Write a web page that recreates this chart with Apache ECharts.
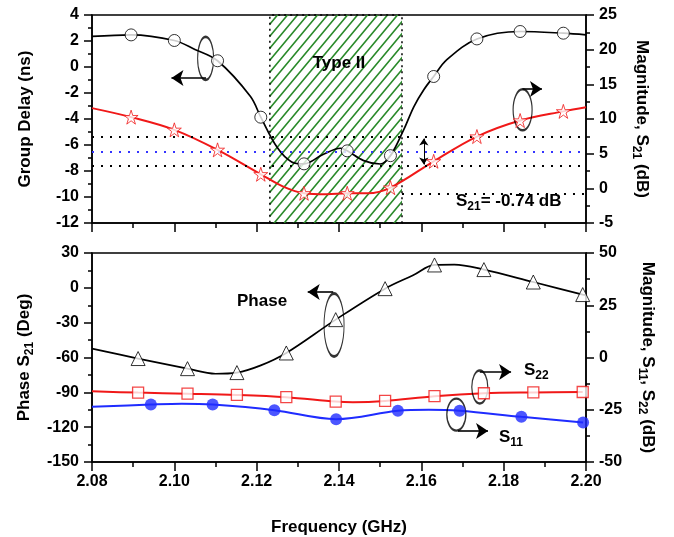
<!DOCTYPE html>
<html>
<head>
<meta charset="utf-8">
<script src="https://cdn.jsdelivr.net/npm/echarts@6/dist/echarts.min.js"></script>
<style>
  html, body { margin: 0; padding: 0; background: #fff; }
  #chart { width: 674px; height: 537px; }
</style>
</head>
<body>
<div id="chart"></div>
<script>
// frequency axis (GHz)
const freqMin = 2.08
const freqMax = 2.20

// top panel: group delay (ns), marker points + extra curve points
const gdMarks = [[2.0895, 2.47], [2.1000, 2.04], [2.1105, 0.48], [2.1210, -3.86], [2.1315, -7.45],
  [2.1420, -6.45], [2.1525, -6.82], [2.1630, -0.73], [2.1735, 2.16], [2.1840, 2.73], [2.1945, 2.60]]
const gdExtra = [[2.080, 2.35], [2.105, 1.35], [2.1185, -2.27], [2.125, -6.2], [2.1285, -7.3],
  [2.136, -6.75], [2.1404, -6.25], [2.146, -7.2], [2.150, -7.46], [2.1557, -4.84], [2.1582, -3.04],
  [2.1606, -1.75], [2.1662, 0.56], [2.200, 2.47]]

// top panel: S21 magnitude (dB)
const s21Marks = [[2.0895, 10.27], [2.1000, 8.44], [2.1105, 5.55], [2.1210, 2.03], [2.1315, -0.71],
  [2.1420, -0.71], [2.1525, 0.1], [2.1630, 3.9], [2.1735, 7.47], [2.1840, 9.78], [2.1945, 11.1]]
const s21Extra = [[2.080, 11.57], [2.1266, 0.2], [2.137, -0.85], [2.147, -0.72], [2.200, 11.7]]

// bottom panel: phase of S21 (deg)
const phaseMarks = [[2.0912, -60.9], [2.1032, -69.6], [2.1152, -73.0], [2.1272, -56.1], [2.1392, -27.4],
  [2.1512, -0.7], [2.1632, 19.7], [2.1752, 15.7], [2.1872, 5.0], [2.1992, -5.8]]
const phaseExtra = [[2.080, -52.3], [2.110, -74.0], [2.121, -66.8], [2.158, 10.8], [2.168, 20.0], [2.200, -6.3]]

// bottom panel: S22 and S11 magnitude (dB)
const s22Marks = [[2.0912, -16.8], [2.1032, -17.3], [2.1152, -17.9], [2.1272, -19.0], [2.1392, -21.1],
  [2.1512, -20.8], [2.1632, -18.5], [2.1752, -17.1], [2.1872, -16.7], [2.1992, -16.5]]
const s22Extra = [[2.080, -16.2], [2.1434, -21.4]]
const s11Marks = [[2.0943, -22.5], [2.1093, -22.5], [2.1243, -25.2], [2.1393, -29.5],
  [2.1543, -25.5], [2.1693, -25.5], [2.1843, -28.4], [2.1993, -31.1]]
const s11Extra = [[2.080, -23.6], [2.1018, -22.1], [2.1618, -25.0]]

// Type II band and reference levels (S21 axis)
const typeBand = [2.1232, 2.1553]
const s21Levels = [7.38, 3.23]
const s21MidLevel = 5.21
const s21MinLevel = -0.74

// annotation ellipses [freq, value] and arrows [from, to]
const gdEllipse = [2.1076, 0.66]
const gdArrow = [[2.1077, -0.85], [2.0993, -0.85]]
const s21Ellipse = [2.1846, 11.32]
const s21Arrow = [[2.1846, 14.31], [2.1893, 14.31]]
const phaseEllipse = [2.1388, -32.0]
const phaseArrow = [[2.1386, -3.6], [2.1324, -3.6]]
const s22Ellipse = [2.1742, -14.1]
const s22Arrow = [[2.1742, -6.9], [2.1818, -6.9]]
const s11Ellipse = [2.1685, -27.3]
const s11Arrow = [[2.1689, -35.2], [2.1762, -35.2]]

const FONT = 'Liberation Sans'
const byFreq = (a, b) => a[0] - b[0]
const curve = (marks, extra) => marks.concat(extra).sort(byFreq)

const starPath = 'path://M50 0 L61.17 34.63 L97.55 34.55 L68.07 55.87 L79.39 90.45 L50 69 L20.61 90.45 L31.93 55.87 L2.45 34.55 L38.83 34.63 Z'

// diagonal green hatch for the Type II band
const hatch = document.createElement('canvas')
hatch.width = 10
hatch.height = 12
const hctx = hatch.getContext('2d')
hctx.strokeStyle = '#2a8a2a'
hctx.lineWidth = 1.6
hctx.beginPath()
hctx.moveTo(0, 12); hctx.lineTo(10, 0)
hctx.moveTo(-10, 12); hctx.lineTo(10, -12)
hctx.moveTo(0, 24); hctx.lineTo(20, 0)
hctx.stroke()

const rich = {
  m: { fontSize: 17, fontWeight: 'bold', fontFamily: FONT, color: '#000', lineHeight: 24 },
  s: { fontSize: 12, fontWeight: 'bold', fontFamily: FONT, color: '#000', lineHeight: 12, verticalAlign: 'bottom' }
}

const xAxisBase = (gridIndex, showLabel) => ({
  type: 'value',
  gridIndex,
  min: freqMin,
  max: freqMax,
  interval: 0.02,
  axisLine: { onZero: false, lineStyle: { color: '#000', width: 1.5 } },
  axisTick: { length: 9, lineStyle: { color: '#000', width: 1.5 } },
  minorTick: { show: true, splitNumber: 2, length: 5, lineStyle: { color: '#000', width: 1.5 } },
  splitLine: { show: false },
  axisLabel: {
    show: showLabel, margin: 12, color: '#000', fontSize: 16, fontWeight: 'bold', fontFamily: FONT,
    formatter: v => v.toFixed(2)
  }
})

const yAxisBase = (gridIndex, position, min, max, interval, name, nameGap) => ({
  type: 'value',
  gridIndex,
  position,
  min,
  max,
  interval,
  name,
  nameLocation: 'middle',
  nameGap,
  nameRotate: position === 'left' ? 90 : -90,
  nameTextStyle: { rich },
  axisLine: { show: true, onZero: false, lineStyle: { color: '#000', width: 1.5 } },
  axisTick: { length: 8, lineStyle: { color: '#000', width: 1.5 } },
  minorTick: { show: true, splitNumber: 2, length: 4, lineStyle: { color: '#000', width: 1.5 } },
  splitLine: { show: false },
  axisLabel: { margin: 13, color: '#000', fontSize: 16, fontWeight: 'bold', fontFamily: FONT }
})

const arrowLine = (pts, color) => ({
  silent: true,
  symbol: ['none', 'arrow'],
  symbolSize: 12,
  label: { show: false },
  lineStyle: { color: color || '#000', type: 'solid', width: 1.6 },
  data: [[{ coord: pts[0] }, { coord: pts[1] }]]
})

const ellipse = (x, y, center, size) => ({
  type: 'scatter',
  xAxisIndex: x,
  yAxisIndex: y,
  silent: true,
  z: 5,
  symbol: 'circle',
  data: [{ value: center, symbolSize: size }],
  itemStyle: { color: 'rgba(0,0,0,0)', borderColor: '#000', borderWidth: 1.7 }
})

const chart = echarts.init(document.getElementById('chart'))

const option = {
  animation: false,
  backgroundColor: '#fff',
  grid: [
    { left: 92, top: 15, width: 494, height: 208, show: true, borderColor: '#000', borderWidth: 1.5 },
    { left: 92, top: 253, width: 494, height: 209, show: true, borderColor: '#000', borderWidth: 1.5 }
  ],
  xAxis: [
    xAxisBase(0, false),
    Object.assign(xAxisBase(1, true), {
      name: 'Frequency (GHz)',
      nameLocation: 'middle',
      nameGap: 57,
      nameTextStyle: { fontSize: 17, fontWeight: 'bold', fontFamily: FONT, color: '#000' }
    })
  ],
  yAxis: [
    yAxisBase(0, 'left', -12, 4, 2, '{m|Group Delay (ns)}', 55),
    yAxisBase(0, 'right', -5, 25, 5, '{m|Magnitude, S}{s|21}{m| (dB)}', 44),
    yAxisBase(1, 'left', -150, 30, 30, '{m|Phase S}{s|21}{m| (Deg)}', 55),
    yAxisBase(1, 'right', -50, 50, 25, '{m|Magnitude, S}{s|11}{m|, S}{s|22}{m| (dB)}', 50)
  ],
  series: [
    {
      name: 'Group Delay',
      type: 'line',
      xAxisIndex: 0,
      yAxisIndex: 0,
      data: curve(gdMarks, gdExtra),
      smooth: 0.35,
      showSymbol: false,
      z: 3,
      lineStyle: { color: '#000', width: 1.7 },
      markArea: {
        silent: true,
        itemStyle: {
          color: { image: hatch, repeat: 'repeat' },
          borderColor: '#000',
          borderWidth: 1.5,
          borderType: [2, 4]
        },
        label: { show: false },
        data: [[{ xAxis: typeBand[0] }, { xAxis: typeBand[1] }]]
      }
    },
    {
      type: 'scatter',
      xAxisIndex: 0,
      yAxisIndex: 0,
      data: gdMarks,
      symbol: 'circle',
      symbolSize: 12,
      z: 6,
      itemStyle: { color: '#fff', borderColor: '#000', borderWidth: 1 }
    },
    {
      name: 'S21',
      type: 'line',
      xAxisIndex: 0,
      yAxisIndex: 1,
      data: curve(s21Marks, s21Extra),
      smooth: 0.35,
      showSymbol: false,
      z: 3,
      lineStyle: { color: '#f01818', width: 2 },
      markLine: {
        silent: true,
        symbol: 'none',
        label: { show: false },
        lineStyle: { color: '#000', type: [2, 7], width: 2 },
        data: [
          { yAxis: s21Levels[0] },
          { yAxis: s21MidLevel, lineStyle: { color: '#3434ff', type: [2, 7], width: 2 } },
          { yAxis: s21Levels[1] },
          [{ coord: [typeBand[1], s21MinLevel] }, { coord: [freqMax, s21MinLevel] }]
        ]
      }
    },
    {
      type: 'scatter',
      xAxisIndex: 0,
      yAxisIndex: 1,
      data: s21Marks,
      symbol: starPath,
      symbolSize: 14,
      z: 6,
      itemStyle: { color: '#fff', borderColor: '#f01818', borderWidth: 1 },
      markLine: {
        silent: true,
        symbol: ['arrow', 'arrow'],
        symbolSize: 7,
        label: { show: false },
        lineStyle: { color: '#000', type: 'solid', width: 1 },
        data: [[{ coord: [2.1606, s21Levels[0] - 0.2] }, { coord: [2.1606, s21Levels[1] + 0.2] }]]
      }
    },
    {
      name: 'Phase',
      type: 'line',
      xAxisIndex: 1,
      yAxisIndex: 2,
      data: curve(phaseMarks, phaseExtra),
      smooth: 0.35,
      showSymbol: false,
      z: 3,
      lineStyle: { color: '#000', width: 1.7 }
    },
    {
      type: 'scatter',
      xAxisIndex: 1,
      yAxisIndex: 2,
      data: phaseMarks,
      symbol: 'triangle',
      symbolSize: 14,
      z: 6,
      itemStyle: { color: '#fff', borderColor: '#000', borderWidth: 1 }
    },
    {
      name: 'S22',
      type: 'line',
      xAxisIndex: 1,
      yAxisIndex: 3,
      data: curve(s22Marks, s22Extra),
      smooth: 0.35,
      showSymbol: false,
      z: 3,
      lineStyle: { color: '#f01818', width: 2 }
    },
    {
      type: 'scatter',
      xAxisIndex: 1,
      yAxisIndex: 3,
      data: s22Marks,
      symbol: 'rect',
      symbolSize: 11,
      z: 6,
      itemStyle: { color: '#fff', borderColor: '#f01818', borderWidth: 1.3 }
    },
    {
      name: 'S11',
      type: 'line',
      xAxisIndex: 1,
      yAxisIndex: 3,
      data: curve(s11Marks, s11Extra),
      smooth: 0.35,
      showSymbol: false,
      z: 3,
      lineStyle: { color: '#1f2cff', width: 2 }
    },
    {
      type: 'scatter',
      xAxisIndex: 1,
      yAxisIndex: 3,
      data: s11Marks,
      symbol: 'circle',
      symbolSize: 12,
      z: 6,
      itemStyle: { color: '#1f2cff' }
    },
    // annotation ellipses with their arrows
    Object.assign(ellipse(0, 0, gdEllipse, [16, 43]), { markLine: arrowLine(gdArrow) }),
    Object.assign(ellipse(0, 1, s21Ellipse, [19, 41]), { markLine: arrowLine(s21Arrow) }),
    Object.assign(ellipse(1, 2, phaseEllipse, [20, 63]), { markLine: arrowLine(phaseArrow) }),
    Object.assign(ellipse(1, 3, s22Ellipse, [16, 33]), { markLine: arrowLine(s22Arrow) }),
    Object.assign(ellipse(1, 3, s11Ellipse, [19, 32]), { markLine: arrowLine(s11Arrow) })
  ],
  graphic: [
    {
      type: 'text', x: 339, y: 63, z: 10,
      style: { text: 'Type II', font: 'bold 17px "Liberation Sans"', fill: '#000', align: 'center', verticalAlign: 'middle' }
    },
    {
      type: 'text', x: 456, y: 201, z: 10,
      style: { text: '{m|S}{s|21}{m|= -0.74 dB}', rich, align: 'left', verticalAlign: 'middle' }
    },
    {
      type: 'text', x: 237, y: 301, z: 10,
      style: { text: 'Phase', font: 'bold 17px "Liberation Sans"', fill: '#000', align: 'left', verticalAlign: 'middle' }
    },
    {
      type: 'text', x: 524, y: 370, z: 10,
      style: { text: '{m|S}{s|22}', rich, align: 'left', verticalAlign: 'middle' }
    },
    {
      type: 'text', x: 499, y: 437, z: 10,
      style: { text: '{m|S}{s|11}', rich, align: 'left', verticalAlign: 'middle' }
    }
  ]
}

chart.setOption(option)
</script>
</body>
</html>
